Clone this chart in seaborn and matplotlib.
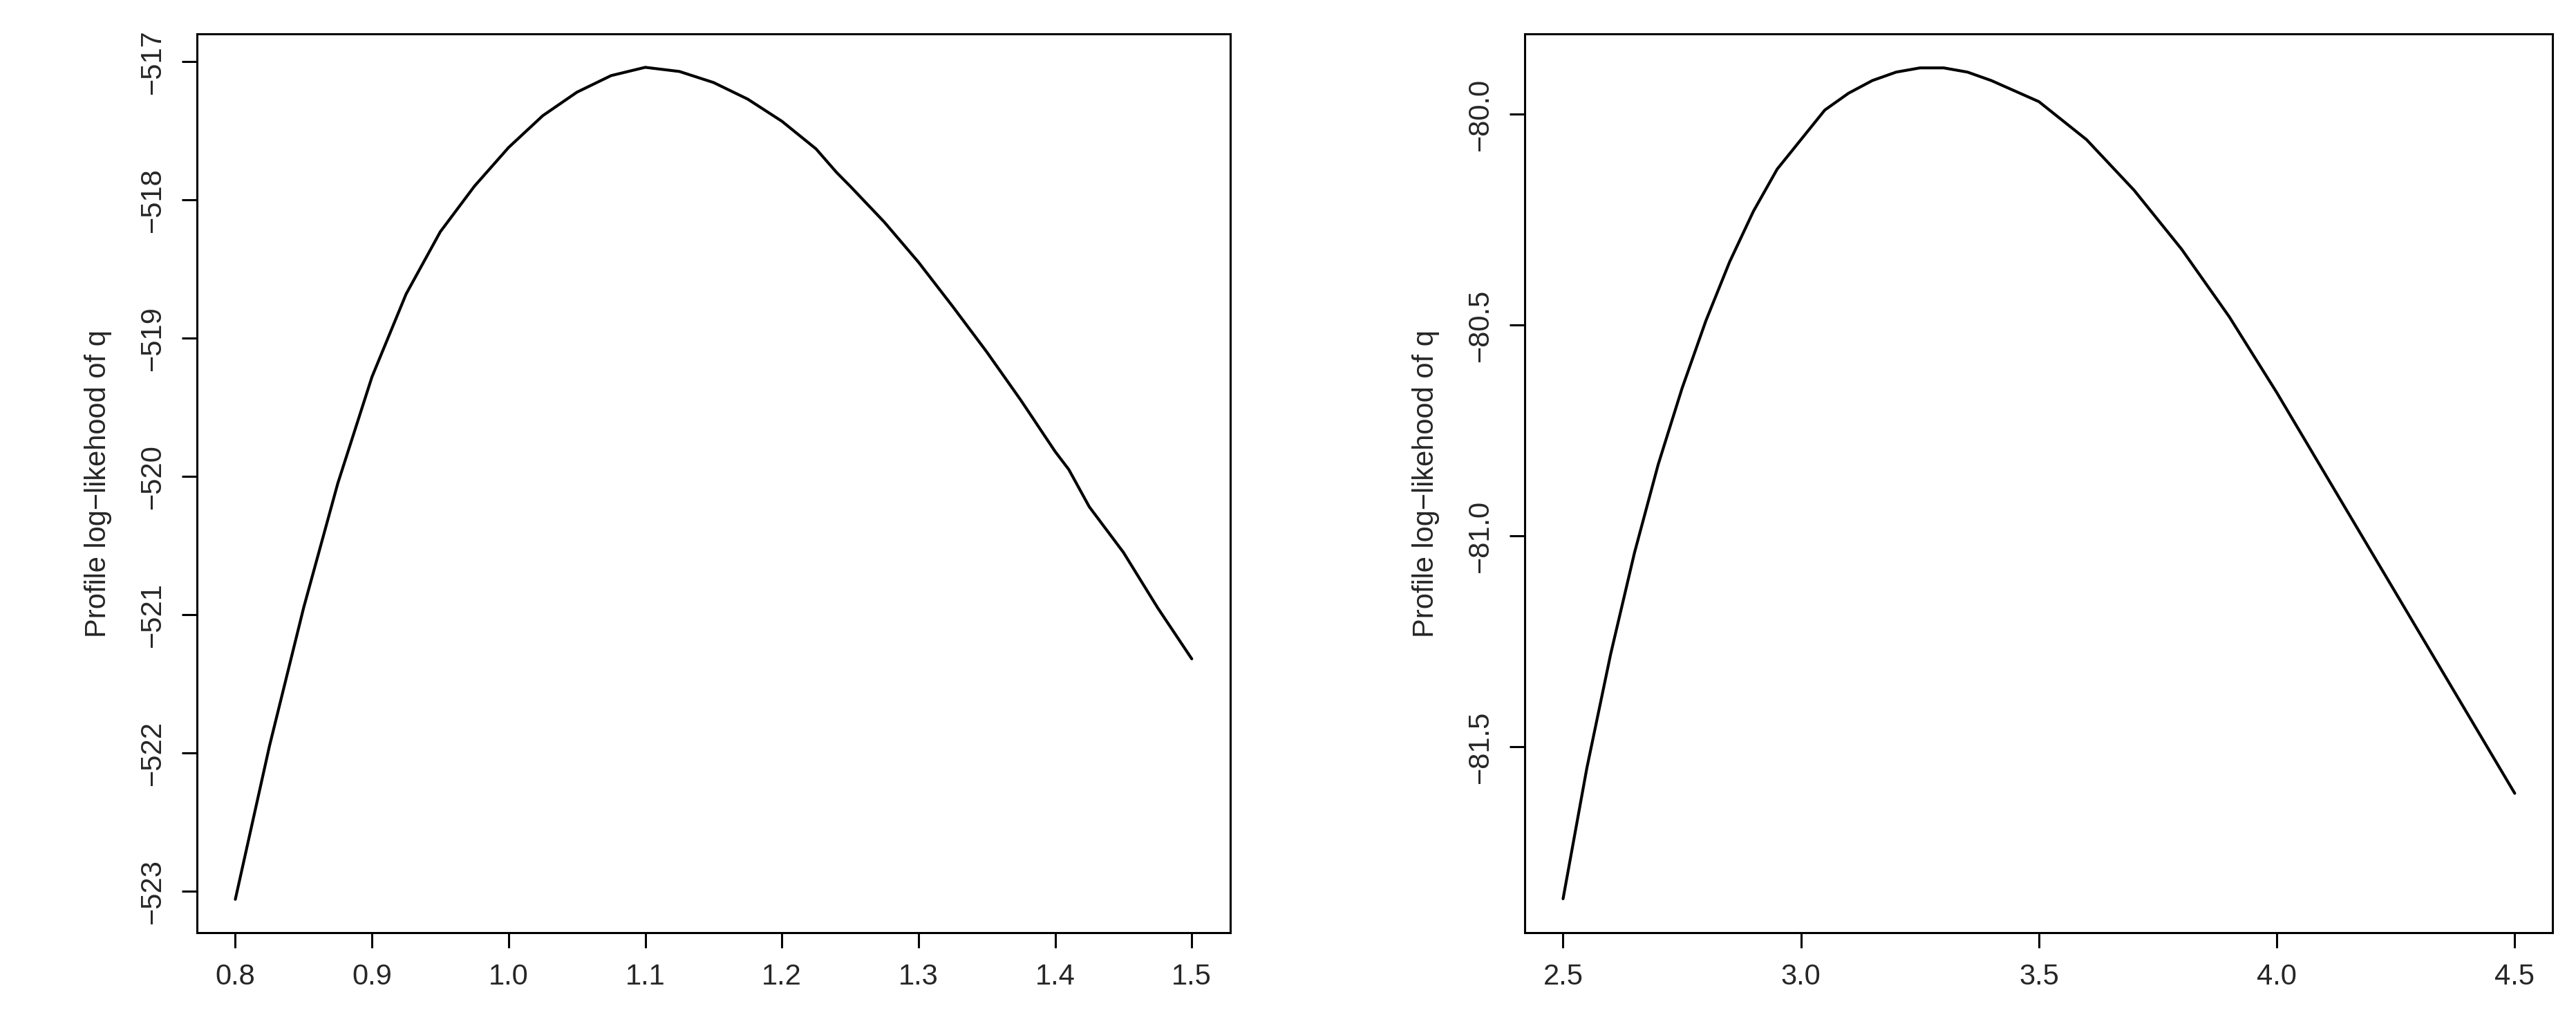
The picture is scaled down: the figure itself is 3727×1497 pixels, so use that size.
import matplotlib
matplotlib.use("Agg")
import matplotlib.pyplot as plt
import seaborn as sns
import pandas as pd

sns.set_style("ticks")
plt.rcParams['font.family'] = ['Liberation Sans', 'DejaVu Sans']

q_left = [0.80, 0.825, 0.85, 0.875, 0.90, 0.925, 0.95, 0.975, 1.00, 1.025, 1.05, 1.075, 1.10, 1.125,
          1.15, 1.175, 1.20, 1.225, 1.24, 1.25, 1.275, 1.30, 1.325, 1.35, 1.375, 1.40, 1.41, 1.425, 1.45, 1.475, 1.50]
ll_left = [-523.06, -521.95, -520.95, -520.05, -519.28, -518.68, -518.23, -517.90, -517.62, -517.39, -517.22,
           -517.10, -517.04, -517.07, -517.15, -517.27, -517.43, -517.63, -517.80, -517.90, -518.16, -518.45,
           -518.77, -519.10, -519.45, -519.82, -519.95, -520.22, -520.55, -520.95, -521.32]

q_right = [2.5, 2.55, 2.6, 2.65, 2.7, 2.75, 2.8, 2.85, 2.9, 2.95, 3.0, 3.05, 3.1, 3.15, 3.2, 3.25, 3.3, 3.35, 3.4,
           3.5, 3.6, 3.7, 3.8, 3.9, 4.0, 4.1, 4.2, 4.3, 4.4, 4.5]
ll_right = [-81.86, -81.55, -81.28, -81.04, -80.83, -80.65, -80.49, -80.35, -80.23, -80.13, -80.06, -79.99,
            -79.95, -79.92, -79.90, -79.89, -79.89, -79.90, -79.92, -79.97, -80.06,
            -80.18, -80.32, -80.48, -80.66, -80.85, -81.04, -81.23, -81.42, -81.61]

fig = plt.figure(figsize=(18.635, 7.485), dpi=200)
ax1 = fig.add_axes([0.0765, 0.099, 0.401, 0.868])
ax2 = fig.add_axes([0.592, 0.099, 0.399, 0.868])

sns.lineplot(data=pd.DataFrame({"q": q_left, "ll": ll_left}), x="q", y="ll", ax=ax1, color="black", lw=1.5)
sns.lineplot(data=pd.DataFrame({"q": q_right, "ll": ll_right}), x="q", y="ll", ax=ax2, color="black", lw=1.5)

ax1.set_xlim(0.772, 1.528)
ax1.set_ylim(-523.30, -516.80)
ax1.set_xticks([0.8, 0.9, 1.0, 1.1, 1.2, 1.3, 1.4, 1.5])
ax1.set_xticklabels(["0.8", "0.9", "1.0", "1.1", "1.2", "1.3", "1.4", "1.5"])
ax1.set_yticks([-523, -522, -521, -520, -519, -518, -517])
ax1.set_yticklabels(["\u2212523", "\u2212522", "\u2212521", "\u2212520", "\u2212519", "\u2212518", "\u2212517"])

ax2.set_xlim(2.42, 4.58)
ax2.set_ylim(-81.94, -79.81)
ax2.set_xticks([2.5, 3.0, 3.5, 4.0, 4.5])
ax2.set_xticklabels(["2.5", "3.0", "3.5", "4.0", "4.5"])
ax2.set_yticks([-81.5, -81.0, -80.5, -80.0])
ax2.set_yticklabels(["\u221281.5", "\u221281.0", "\u221280.5", "\u221280.0"])

for ax in (ax1, ax2):
    ax.set_xlabel("")
    ax.set_ylabel("Profile log\u2212likehood of q", fontsize=15, labelpad=14)
    for s in ax.spines.values():
        s.set_visible(True)
        s.set_linewidth(1.1)
        s.set_color("black")
    ax.tick_params(axis="both", labelsize=15, length=8, width=1.1, color="black", pad=8)
    for lab in ax.get_yticklabels():
        lab.set_rotation(90)
        lab.set_va("center")

fig.savefig("out.png", dpi=200, facecolor="white")
